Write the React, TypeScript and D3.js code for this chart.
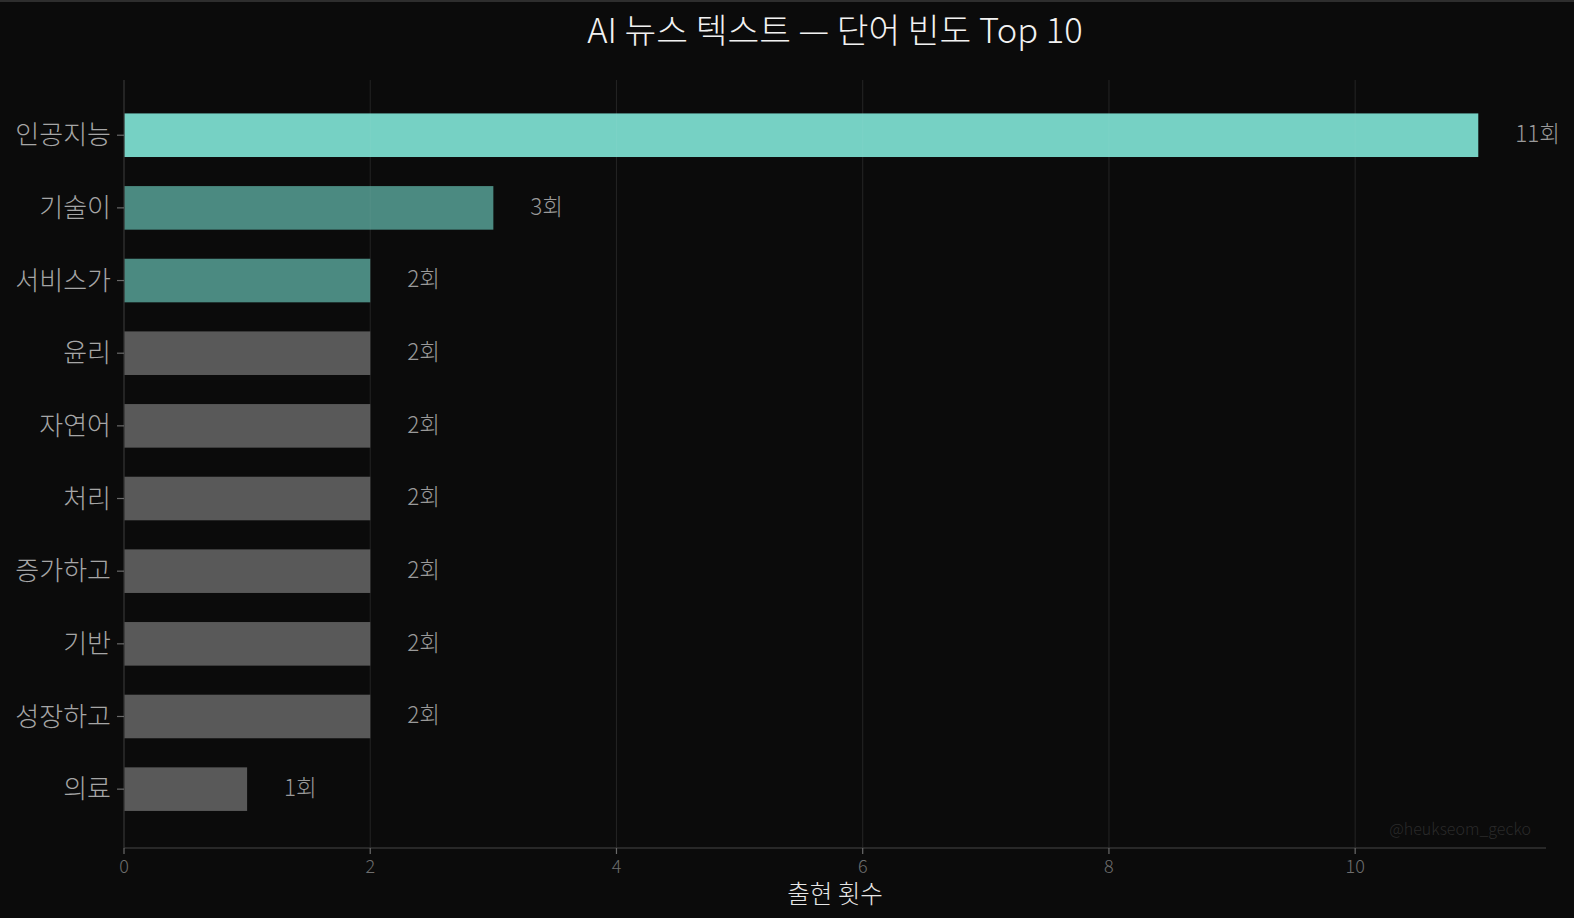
import React from "react";
import * as d3 from "d3";

const words = ["인공지능", "기술이", "서비스가", "윤리", "자연어", "처리", "증가하고", "기반", "성장하고", "의료"];
const counts = [11, 3, 2, 2, 2, 2, 2, 2, 2, 1];
const barColors = ["#76d1c4", "#4b8a81", "#4b8a81", "#595959", "#595959", "#595959", "#595959", "#595959", "#595959", "#595959"];
const xTicks = [0, 2, 4, 6, 8, 10];
const title = "AI 뉴스 텍스트 — 단어 빈도 Top 10";
const xLabel = "출현 횟수";
const watermark = "@heukseom_gecko";

const W = 1574;
const H = 918;
const FONT = "'Noto Sans CJK KR', 'Noto Sans', sans-serif";

export default function App() {
  const left = 124;
  const right = 1546;
  const top = 80;
  const bottom = 848;
  const x = d3.scaleLinear().domain([0, 11.55]).range([left, right]);
  const y = d3.scaleLinear().domain([-0.76, 9.81]).range([top, bottom]);
  const bandH = (y(1) - y(0)) * 0.6;

  return (
    <svg
      width={W}
      height={H}
      style={{ position: "fixed", left: 0, top: 0, display: "block", background: "#0b0b0b" }}
      fontFamily={FONT}
      fontWeight={300}
    >
      <rect x={0} y={0} width={W} height={H} fill="#0b0b0b" />
      <rect x={0} y={0} width={W} height={2} fill="#2e2e2e" />
      <text x={835} y={43} textAnchor="middle" fill="#f2f2f2" fontSize={34.5}>
        {title}
      </text>
      {xTicks.slice(1).map((t) => (
        <line key={"g" + t} x1={x(t)} x2={x(t)} y1={top} y2={bottom} stroke="#191919" strokeWidth={1.2} />
      ))}
      {words.map((w, i) => (
        <rect
          key={"b" + w}
          x={x(0)}
          y={y(i) - bandH / 2}
          width={x(counts[i]) - x(0)}
          height={bandH}
          fill={barColors[i]}
        />
      ))}
      {xTicks.slice(1).map((t) => (
        <line key={"go" + t} x1={x(t)} x2={x(t)} y1={top} y2={bottom} stroke="#ffffff" strokeOpacity={0.04} strokeWidth={1.2} />
      ))}
      <line x1={left} x2={left} y1={top} y2={bottom} stroke="#333333" strokeWidth={1.3} />
      <line x1={left} x2={right} y1={bottom} y2={bottom} stroke="#333333" strokeWidth={1.3} />
      {words.map((w, i) => (
        <g key={"l" + w}>
          <line x1={left - 7} x2={left} y1={y(i)} y2={y(i)} stroke="#6a6a6a" strokeWidth={1.2} />
          <text x={left - 13} y={y(i)} dy="0.35em" textAnchor="end" fill="#a6a6a6" fontSize={26}>
            {w}
          </text>
          <text x={x(counts[i] + 0.3)} y={y(i)} dy="0.3em" textAnchor="start" fill="#9a9a9a" fontSize={22.5}>
            {counts[i] + "회"}
          </text>
        </g>
      ))}
      {xTicks.map((t) => (
        <g key={"t" + t}>
          <line x1={x(t)} x2={x(t)} y1={bottom} y2={bottom + 6} stroke="#6a6a6a" strokeWidth={1.2} />
          <text x={x(t)} y={bottom + 25} textAnchor="middle" fill="#6e6e6e" fontSize={18}>
            {t}
          </text>
        </g>
      ))}
      <text x={835} y={903} textAnchor="middle" fill="#e6e6e6" fontSize={24.5}>
        {xLabel}
      </text>
      <text x={1531} y={835} textAnchor="end" fill="#2a2a2a" fontSize={16}>
        {watermark}
      </text>
    </svg>
  );
}
